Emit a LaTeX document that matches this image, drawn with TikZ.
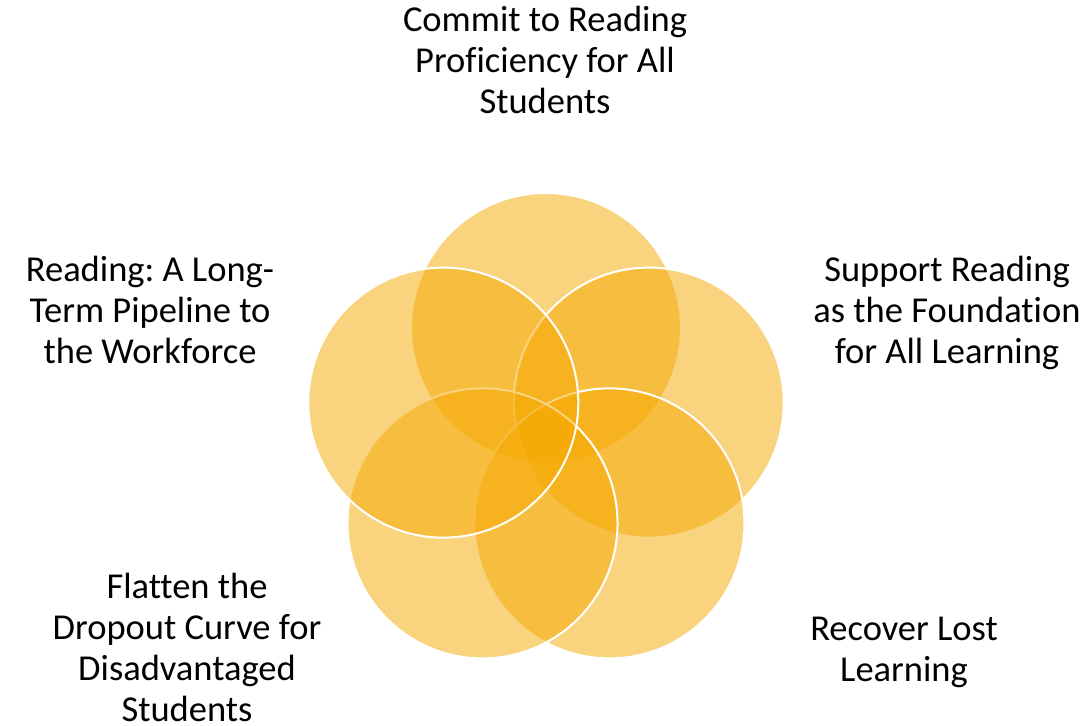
\documentclass[tikz,border=0pt]{standalone}
\usepackage{fontspec}
\setmainfont[Ligatures=NoCommon]{Carlito}
\definecolor{petalgold}{RGB}{245,168,0}

\begin{document}
\begin{tikzpicture}[x=1pt, y=1pt,
    petal/.style={circle, draw=white, line width=2pt, fill=petalgold,
      fill opacity=0.5, minimum size=270pt, inner sep=0pt},
    goal/.style={align=center, anchor=base, inner sep=0pt,
      font=\fontsize{36.5}{41}\selectfont\frenchspacing}]
  \useasboundingbox (0,0) rectangle (1091,725);
  % five petals, clockwise from the top
  \begin{scope}[shift={(546,289)}]
    \foreach \a/\n in {90/top, 18/right, -54/lowright, -126/lowleft, -198/left}
      \node[petal] (\n) at (\a:108) {};
  \end{scope}
  % labels (base = last line)
  \node[goal] (commit)   at (545,611) {Commit to Reading\\Proficiency for All\\Students};
  \node[goal] (support)  at (947,361) {Support Reading\\as the Foundation\\for All Learning};
  \node[goal] (recover)  at (904,44)  {Recover Lost\\Learning};
  \node[goal] (flatten)  at (187,4)   {Flatten the\\Dropout Curve for\\Disadvantaged\\Students};
  \node[goal] (pipeline) at (150,361) {Reading: A Long-\\Term Pipeline to\\the Workforce};
\end{tikzpicture}
\end{document}
